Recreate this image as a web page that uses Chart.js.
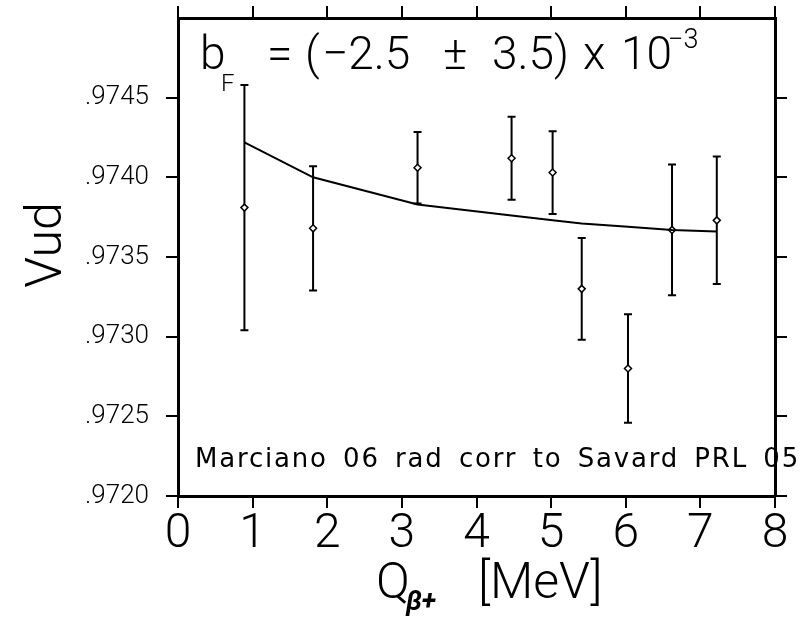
<!DOCTYPE html>
<html>
<head>
<meta charset="utf-8">
<script src="https://cdn.jsdelivr.net/npm/chart.js@4.4.1/dist/chart.umd.min.js"></script>
<style>
  html, body { margin: 0; padding: 0; background: #fff; }
  #wrap { width: 804px; height: 619px; }
</style>
</head>
<body>
<div id="wrap"><canvas id="vudChart" width="804" height="619"></canvas></div>
<script>
// Q(beta+) of the superallowed emitters, MeV
const qValues = [0.89, 1.81, 3.21, 4.47, 5.02, 5.41, 6.03, 6.62, 7.22];
// Vud from each transition and its one-sigma error
const vudValues = [0.97381, 0.97368, 0.97406, 0.97412, 0.97403, 0.97330, 0.97280, 0.97367, 0.97373];
const vudErrors = [0.00077, 0.00039, 0.000225, 0.00026, 0.00026, 0.00032, 0.00034, 0.00041, 0.00040];
// fitted curve with the Fierz term b_F
const fitValues = [0.97422, 0.97400, 0.97383, 0.97376, 0.97373, 0.97371, 0.97369, 0.97367, 0.97366];

const xTicks = [0, 1, 2, 3, 4, 5, 6, 7, 8];
const yTicks = [0.9720, 0.9725, 0.9730, 0.9735, 0.9740, 0.9745];

const FONT = "Roboto, 'DejaVu Sans', sans-serif";
const NOTE_FONT = "'DejaVu Sans', sans-serif";
const INK = "#000";

function frameAxis(position, ticks, size, showLabels, font, padding) {
  const horizontal = position === "top" || position === "bottom";
  return {
    type: "linear",
    position: position,
    min: horizontal ? 0 : 0.9720,
    max: horizontal ? 8 : 0.9750,
    afterBuildTicks: s => { s.ticks = ticks.map(v => ({ value: v })); },
    afterFit: s => {
      if (horizontal) s.height = size; else s.width = size;
      // keep the frame fixed, label overhang is allowed
      s.paddingTop = s.paddingBottom = s.paddingLeft = s.paddingRight = 0;
    },
    ticks: {
      display: showLabels,
      color: INK,
      font: font,
      padding: padding,
      maxRotation: 0,
      autoSkip: false,
      callback: v => horizontal ? String(v) : v.toFixed(4).slice(1)
    },
    grid: {
      drawOnChartArea: false,
      drawTicks: true,
      tickLength: 12,
      lineWidth: 2,
      color: INK
    },
    border: { display: true, width: 3, color: INK }
  };
}

// error bars go under the diamonds
const errorBars = {
  id: "errorBars",
  beforeDatasetsDraw(chart) {
    const { ctx, scales } = chart;
    ctx.save();
    ctx.strokeStyle = INK;
    ctx.lineWidth = 2;
    qValues.forEach((q, i) => {
      const x = scales.x.getPixelForValue(q);
      const yTop = scales.y.getPixelForValue(vudValues[i] + vudErrors[i]);
      const yBot = scales.y.getPixelForValue(vudValues[i] - vudErrors[i]);
      ctx.beginPath();
      ctx.moveTo(x, yTop); ctx.lineTo(x, yBot);
      ctx.moveTo(x - 4, yTop); ctx.lineTo(x + 4, yTop);
      ctx.moveTo(x - 4, yBot); ctx.lineTo(x + 4, yBot);
      ctx.stroke();
    });
    ctx.restore();
  }
};

// wide word gaps, the way the plotting package spaced its strings
function spacedText(ctx, text, x, y, width, letterGap) {
  ctx.letterSpacing = letterGap + "px";
  ctx.wordSpacing = "0px";
  const w0 = ctx.measureText(text).width;
  const spaces = text.split(" ").length - 1;
  ctx.wordSpacing = (spaces ? (width - w0) / spaces : 0) + "px";
  ctx.fillText(text, x, y);
  ctx.letterSpacing = "0px";
  ctx.wordSpacing = "0px";
}

// pieces of the b_F line and where each one starts
const titleParts = [["=", 267], ["(", 305], ["\u22122.5", 322], ["\u00b1", 443], ["3.5)", 492], ["x", 583], ["10", 621]];

const labels = {
  id: "labels",
  afterDraw(chart) {
    const ctx = chart.ctx;
    ctx.save();
    ctx.fillStyle = INK;
    ctx.textAlign = "left";
    ctx.textBaseline = "alphabetic";

    // fit result in the upper part of the frame
    ctx.font = "300 46px " + FONT;
    ctx.fillText("b", 200, 69);
    ctx.font = "300 24px " + FONT;
    ctx.fillText("F", 221, 91);
    ctx.font = "300 46px " + FONT;
    titleParts.forEach(([t, x]) => ctx.fillText(t, x, 69));
    ctx.font = "300 27px " + FONT;
    ctx.fillText("\u22123", 668, 48);

    // source note
    ctx.font = "26px " + NOTE_FONT;
    spacedText(ctx, "Marciano 06 rad corr to Savard PRL 05", 195, 467, 605, 1.8);

    // x axis title
    ctx.font = "300 50px " + FONT;
    ctx.fillText("Q", 376, 598);
    ctx.font = "italic bold 27px " + FONT;
    ctx.fillText("\u03b2+", 406, 610);
    ctx.font = "300 50px " + FONT;
    ctx.fillText("[MeV]", 478, 598);

    // y axis title
    ctx.translate(61, 245);
    ctx.rotate(-Math.PI / 2);
    ctx.textAlign = "center";
    ctx.font = "300 50px " + FONT;
    ctx.fillText("Vud", 0, 0);
    ctx.restore();
  }
};

new Chart(document.getElementById("vudChart"), {
  type: "scatter",
  data: {
    datasets: [
      {
        label: "fit",
        data: qValues.map((q, i) => ({ x: q, y: fitValues[i] })),
        showLine: true,
        borderColor: INK,
        borderWidth: 2,
        pointRadius: 0,
        tension: 0
      },
      {
        label: "Vud",
        data: qValues.map((q, i) => ({ x: q, y: vudValues[i] })),
        showLine: false,
        pointStyle: "rectRot",
        pointRadius: 3.5,
        borderWidth: 1.5,
        borderColor: INK,
        backgroundColor: "#fff"
      }
    ]
  },
  options: {
    responsive: false,
    animation: false,
    layout: { padding: 0 },
    plugins: {
      legend: { display: false },
      tooltip: { enabled: false }
    },
    scales: {
      x: frameAxis("bottom", xTicks, 123, true, { family: FONT, size: 48, weight: 300 }, -2),
      x2: frameAxis("top", xTicks, 18, false, { family: FONT, size: 12 }, 0),
      y: frameAxis("left", yTicks, 178, true, { family: FONT, size: 26, weight: 300 }, 17),
      y2: frameAxis("right", yTicks, 29, false, { family: FONT, size: 12 }, 0)
    }
  },
  plugins: [errorBars, labels]
});
</script>
</body>
</html>
